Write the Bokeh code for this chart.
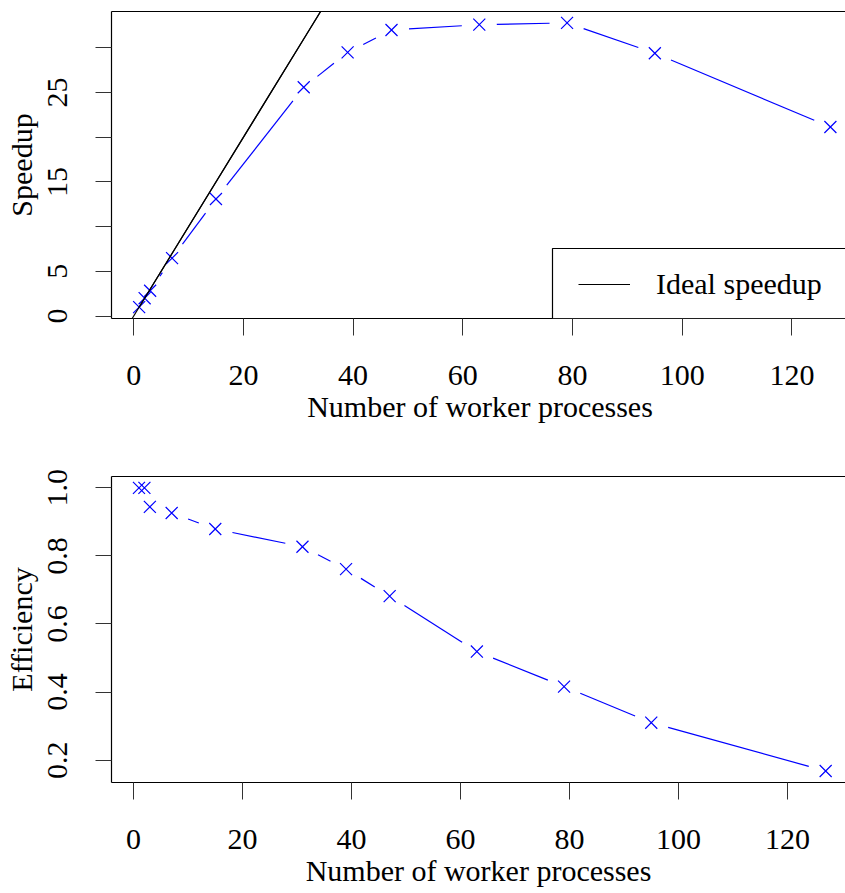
import math

from bokeh.embed import file_html
from bokeh.layouts import column
from bokeh.models import (BoxAnnotation, FixedTicker, Legend, LegendItem, LinearAxis,
                          NumeralTickFormatter, Range1d, Slope)
from bokeh.plotting import figure
from bokeh.resources import INLINE

# Measured scaling of the job
workers = [1, 2, 3, 7, 15, 31, 39, 47, 63, 79, 95, 127]
speedup = [1.0, 2.0, 2.83, 6.48, 13.1, 25.6, 29.5, 32.0, 32.6, 32.8, 29.4, 21.15]
efficiency = [1.0, 1.0, 0.944, 0.926, 0.879, 0.827, 0.761, 0.682, 0.519, 0.416, 0.310, 0.168]

x_ticks = [0, 20, 40, 60, 80, 100, 120]
speedup_ticks = [0, 5, 10, 15, 20, 25, 30]
speedup_tick_labels = {0: "0", 5: "5", 10: "", 15: "15", 20: "", 25: "25", 30: ""}
efficiency_ticks = [0.2, 0.4, 0.6, 0.8, 1.0]

x_title = "Number of worker processes"
legend_label = "Ideal speedup"

FONT = "Liberation Serif"
FONT_SIZE = "30px"
BLUE = "#0000ff"
GAP_PX = 17.5  # open space left around every marker on the connecting line


def gapped_segments(xs, ys, xr, yr, fw, fh, gap):
    """Connecting segments between consecutive points, stopping short of each marker."""
    kx = fw / (xr.end - xr.start)
    ky = fh / (yr.end - yr.start)
    x0, y0, x1, y1 = [], [], [], []
    for i in range(len(xs) - 1):
        dx = xs[i + 1] - xs[i]
        dy = ys[i + 1] - ys[i]
        length = math.hypot(dx * kx, dy * ky)
        if length <= 2 * gap:
            continue
        t = gap / length
        x0.append(xs[i] + t * dx)
        y0.append(ys[i] + t * dy)
        x1.append(xs[i + 1] - t * dx)
        y1.append(ys[i + 1] - t * dy)
    return dict(x0=x0, y0=y0, x1=x1, y1=y1)


def make_panel(xr, yr, fw, fh, left, top, bottom, ylab, yticks):
    p = figure(x_range=xr, y_range=yr, frame_width=fw, frame_height=fh,
               min_border_left=left, min_border_right=0,
               min_border_top=top, min_border_bottom=bottom,
               output_backend="svg", toolbar_location=None,
               x_axis_label=x_title, y_axis_label=ylab)
    p.grid.visible = False
    p.outline_line_color = None
    p.background_fill_color = "white"
    p.border_fill_color = "white"

    for ax in p.axis:
        ax.axis_line_color = "black"
        ax.axis_line_width = 1.2
        ax.major_tick_line_color = "#333333"
        ax.major_tick_line_width = 1
        ax.major_tick_in = 0
        ax.minor_tick_line_color = None
        ax.major_label_text_font = FONT
        ax.major_label_text_font_size = FONT_SIZE
        ax.major_label_text_color = "black"
        ax.axis_label_text_font = FONT
        ax.axis_label_text_font_size = FONT_SIZE
        ax.axis_label_text_font_style = "normal"
        ax.axis_label_text_color = "black"

    p.xaxis.ticker = FixedTicker(ticks=x_ticks)
    p.xaxis.major_tick_out = 17
    p.xaxis.major_label_standoff = 30
    p.xaxis.axis_label_standoff = 2

    p.yaxis.ticker = FixedTicker(ticks=yticks)
    p.yaxis.major_label_orientation = "vertical"
    p.yaxis.major_tick_out = 16
    p.yaxis.major_label_standoff = 28
    p.yaxis.axis_label_standoff = 8

    # closing line along the top of the plotting region
    p.add_layout(LinearAxis(ticker=FixedTicker(ticks=[]), axis_line_color="black",
                            axis_line_width=1.2, major_tick_line_color=None,
                            minor_tick_line_color=None), "above")
    return p


def draw_series(p, xs, ys, fw, fh):
    p.segment(x0="x0", y0="y0", x1="x1", y1="y1",
              source=gapped_segments(xs, ys, p.x_range, p.y_range, fw, fh, GAP_PX),
              line_color=BLUE, line_width=1.2)
    p.scatter(xs, ys, marker="x", size=17, line_color=BLUE, line_width=1.2)


# --- speedup ---
fw1, fh1 = 737, 307
p1 = make_panel(Range1d(-4.04, 130.3), Range1d(-0.272, 34.072), fw1, fh1,
                left=108, top=11, bottom=128, ylab="Speedup", yticks=speedup_ticks)
p1.yaxis.major_label_overrides = speedup_tick_labels
draw_series(p1, workers, speedup, fw1, fh1)

# ideal speedup: y = x across the whole panel
p1.add_layout(Slope(gradient=1, y_intercept=0, line_color="black", line_width=1.2))
ideal_key = p1.line(x=workers, y=workers, line_color="black", line_width=1.2)

# legend frame, running off the right-hand side of the panel
p1.add_layout(BoxAnnotation(left=552, right=900, top=248, bottom=318,
                            left_units="canvas", right_units="canvas",
                            top_units="canvas", bottom_units="canvas",
                            fill_color="white", fill_alpha=1.0,
                            line_color="black", line_alpha=1.0, line_width=1.2))
legend = Legend(items=[LegendItem(label=legend_label, renderers=[ideal_key])],
                location=(468, 17), orientation="vertical",
                padding=0, spacing=0, margin=0,
                glyph_width=52, glyph_height=34, label_height=34,
                label_standoff=26,
                label_text_font=FONT, label_text_font_size=FONT_SIZE,
                label_text_color="black",
                border_line_color=None, background_fill_alpha=0.0)
p1.add_layout(legend)

# --- efficiency ---
fw2, fh2 = 734, 306
p2 = make_panel(Range1d(-4.04, 130.64), Range1d(0.1343, 1.0333), fw2, fh2,
                left=111, top=30, bottom=111, ylab="Efficiency", yticks=efficiency_ticks)
p2.yaxis.formatter = NumeralTickFormatter(format="0.0")
draw_series(p2, workers, efficiency, fw2, fh2)

layout = column(p1, p2, spacing=0)

with open("out.html", "w") as f:
    f.write(file_html(layout, INLINE, title="Speedup and efficiency"))
